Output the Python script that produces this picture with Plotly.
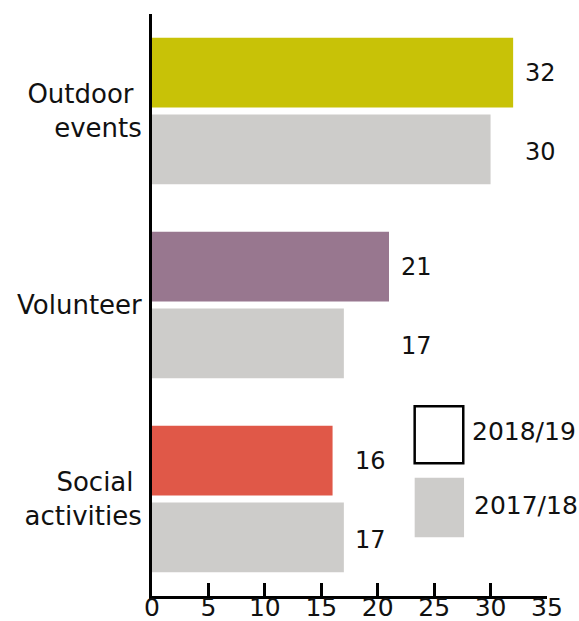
import plotly.graph_objects as go

categories = ["Outdoor\u00a0<br>events", "Volunteer", "Social\u00a0<br>activities"]
values_2018 = [32, 21, 16]
values_2017 = [30, 17, 17]
colors_2018 = ["#C8C207", "#98778F", "#E05848"]
grey = "#CDCCCA"
x_ticks = [0, 5, 10, 15, 20, 25, 30, 35]
series_names = ["2018/19", "2017/18"]

FONT = "DejaVu Sans"
TXT = "#111111"

fig = go.Figure()
fig.add_trace(go.Bar(y=categories, x=values_2018, orientation="h", name=series_names[0],
                     marker=dict(color=colors_2018, line=dict(width=0)), showlegend=False,
                     hoverinfo="skip"))
fig.add_trace(go.Bar(y=categories, x=values_2017, orientation="h", name=series_names[1],
                     marker=dict(color=grey, line=dict(width=0)), showlegend=False,
                     hoverinfo="skip"))

annotations = []
for i, cat in enumerate(categories):
    gmax = max(values_2018[i], values_2017[i])
    for j, v in enumerate([values_2018[i], values_2017[i]]):
        annotations.append(dict(
            x=gmax, y=cat, xref="x", yref="y", text=str(v), showarrow=False,
            xanchor="center", yanchor="middle", xshift=27,
            yshift=38 if j == 0 else -41,
            font=dict(family=FONT, size=24, color=TXT),
        ))

# custom legend
shapes = [
    dict(type="rect", xref="paper", yref="paper", x0=0.665, x1=0.788, y0=0.228, y1=0.326,
         line=dict(color="black", width=2.5), fillcolor="white", layer="above"),
    dict(type="rect", xref="paper", yref="paper", x0=0.665, x1=0.790, y0=0.101, y1=0.203,
         line=dict(width=0), fillcolor=grey, layer="above"),
]
annotations += [
    dict(x=0.806, y=0.282, xref="paper", yref="paper", text=series_names[0], showarrow=False,
         xanchor="left", yanchor="middle", font=dict(family=FONT, size=25, color=TXT)),
    dict(x=0.811, y=0.156, xref="paper", yref="paper", text=series_names[1], showarrow=False,
         xanchor="left", yanchor="middle", font=dict(family=FONT, size=25, color=TXT)),
]

fig.update_layout(
    width=579, height=621,
    margin=dict(l=152, r=32, t=14, b=25),
    paper_bgcolor="white", plot_bgcolor="white",
    barmode="group", bargap=0.208, bargroupgap=0.09,
    annotations=annotations, shapes=shapes,
    xaxis=dict(range=[0, 35], tickvals=x_ticks, ticktext=[str(t) for t in x_ticks],
               showgrid=False, zeroline=False, showline=True, linecolor="black", linewidth=3,
               ticks="inside", ticklen=13, tickwidth=3, tickcolor="black",
               ticklabelstandoff=-13,
               tickfont=dict(family=FONT, size=25, color=TXT), layer="below traces",
               automargin=False, fixedrange=True),
    yaxis=dict(range=[2.5, -0.5], showgrid=False, zeroline=False, showline=True,
               linecolor="black", linewidth=3, ticks="", ticklabelstandoff=2,
               tickfont=dict(family=FONT, size=26, color=TXT), layer="below traces",
               automargin=False, fixedrange=True),
)

fig.write_html("out.html")
